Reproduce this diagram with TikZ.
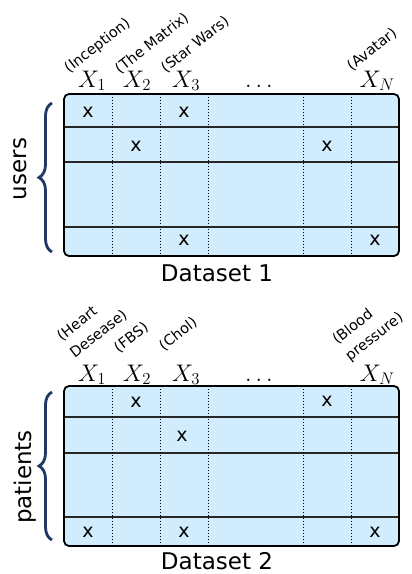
\RequirePackage{fix-cm}
\documentclass[tikz,border=0pt]{standalone}
\usepackage{fontspec}
\setmainfont{DejaVu Sans}
\usetikzlibrary{decorations.pathreplacing}
\definecolor{cellblue}{RGB}{209,236,252}
\definecolor{bracenavy}{RGB}{31,56,100}
\begin{document}
\begin{tikzpicture}[x=1pt,y=-1pt,
  lbl/.style={font=\fontsize{14.5}{21}\selectfont, rotate=38, anchor=south west, inner sep=0pt, align=left},
  xvar/.style={font=\fontsize{24}{28}\selectfont, anchor=base, inner sep=0pt},
  cellmark/.style={font=\fontsize{19}{22}\selectfont, inner sep=0pt},
  side/.style={font=\fontsize{23}{28}\selectfont, rotate=90, anchor=base, inner sep=0pt},
  dstitle/.style={font=\fontsize{23}{28}\selectfont, anchor=base, inner sep=0pt},
  rowline/.style={line width=1.6pt, black!85},
  colline/.style={line width=0.9pt, dash pattern=on 0.9pt off 2.1pt},
  frame/.style={line width=1.8pt, rounded corners=5pt},
  cbrace/.style={decorate, decoration={brace, amplitude=13pt}, line width=2.8pt, bracenavy}
]
\useasboundingbox (0,0) rectangle (412,574);

% ---------------- Dataset 1 ----------------
\fill[cellblue, rounded corners=5pt] (64,94) rectangle (399,256);
\foreach \yy in {127,162,227} \draw[rowline] (64,\yy) -- (399,\yy);
\foreach \xx in {112,160,208,303,351} \draw[colline] (\xx,94) -- (\xx,256);
\draw[frame] (64,94) rectangle (399,256);

\node[cellmark] (a11) at (88,112) {x};
\node[cellmark] (a13) at (184,112) {x};
\node[cellmark] (a22) at (136,146) {x};
\node[cellmark] (a25) at (327,146) {x};
\node[cellmark] (a43) at (184,240) {x};
\node[cellmark] (a46) at (375,240) {x};

\node[xvar] (ax1) at (92,87) {$X_1$};
\node[xvar] (ax2) at (137,87) {$X_2$};
\node[xvar] (ax3) at (186,87) {$X_3$};
\node[xvar] (axd) at (259,87) {$\ldots$};
\node[xvar] (axn) at (377,87) {$X_N$};

\node[lbl] (al1) at (71,76) {(Inception)};
\node[lbl] (al2) at (121,76) {(The Matrix)};
\node[lbl] (al3) at (167,75) {(Star Wars)};
\node[lbl] (aln) at (353,73) {(Avatar)};

\draw[cbrace] (52,252) -- (52,103);
\node[side] (users) at (27,169) {users};
\node[dstitle] (ds1) at (217,281) {Dataset 1};

% ---------------- Dataset 2 ----------------
\fill[cellblue, rounded corners=5pt] (64,386) rectangle (399,546);
\foreach \yy in {417,453,517} \draw[rowline] (64,\yy) -- (399,\yy);
\foreach \xx in {112,160,208,303,351} \draw[colline] (\xx,386) -- (\xx,546);
\draw[frame] (64,386) rectangle (399,546);

\node[cellmark] (b12) at (136,402) {x};
\node[cellmark] (b15) at (327,401) {x};
\node[cellmark] (b23) at (182,436) {x};
\node[cellmark] (b41) at (88,532) {x};
\node[cellmark] (b43) at (184,532) {x};
\node[cellmark] (b46) at (375,532) {x};

\node[xvar] (bx1) at (92,381) {$X_1$};
\node[xvar] (bx2) at (137,381) {$X_2$};
\node[xvar] (bx3) at (186,381) {$X_3$};
\node[xvar] (bxd) at (259,381) {$\ldots$};
\node[xvar] (bxn) at (377,381) {$X_N$};

\node[lbl] (bl1) at (76,360) {(Heart\\Desease)};
\node[lbl] (bl2) at (120,355) {(FBS)};
\node[lbl] (bl3) at (165,353) {(Chol)};
\node[lbl] (bln) at (352,364) {(Blood\\pressure)};

\draw[cbrace] (52,540) -- (52,392);
\node[side] (patients) at (31,477) {patients};
\node[dstitle] (ds2) at (217,569.5) {Dataset 2};
\end{tikzpicture}
\end{document}
